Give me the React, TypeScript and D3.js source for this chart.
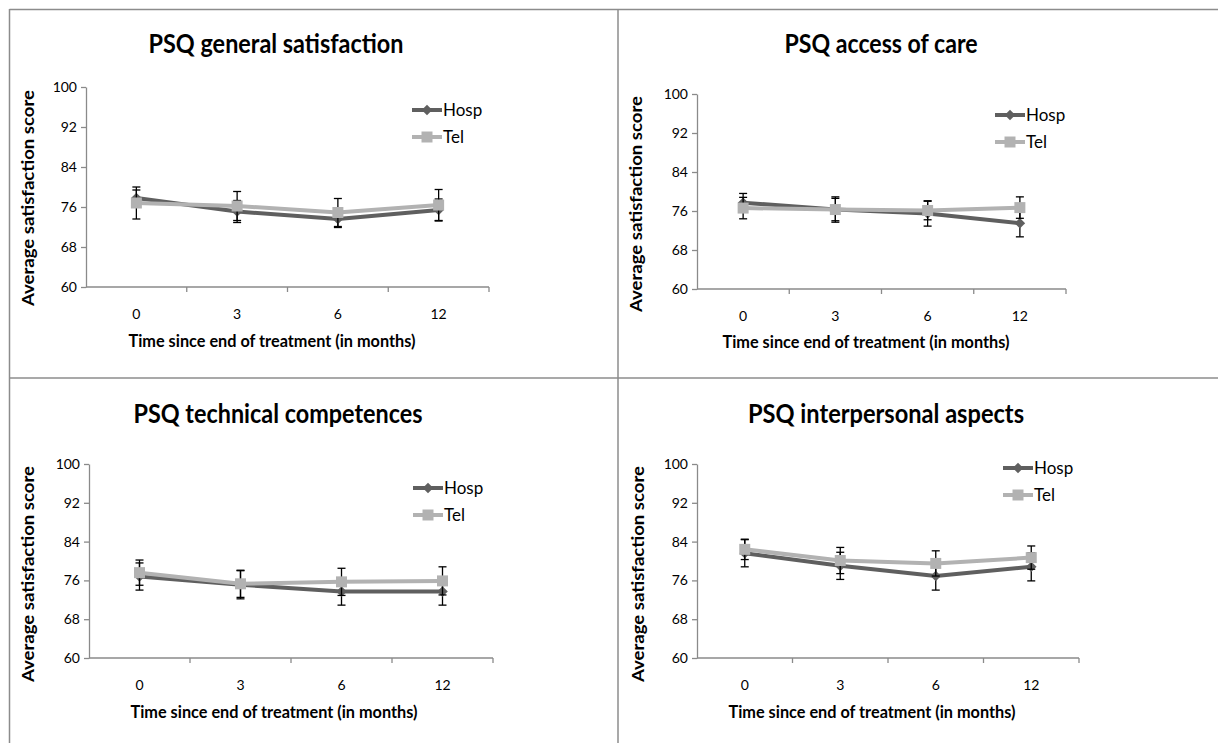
import React, { useEffect, useRef } from 'react';
import * as d3 from 'd3';

// data
const months = ['0', '3', '6', '12'];
const yTicks = [60, 68, 76, 84, 92, 100];
const seriesNames = ['Hosp', 'Tel'];

const titles = [
  'PSQ general satisfaction',
  'PSQ access of care',
  'PSQ technical competences',
  'PSQ interpersonal aspects',
];

const generalHosp = [77.8, 75.1, 73.6, 75.4];
const generalHospErr = [1.6, 2.2, 1.7, 2.2];
const generalTel = [76.8, 76.2, 74.9, 76.4];
const generalTelErr = [3.2, 2.9, 2.8, 3.1];

const accessHosp = [77.7, 76.3, 75.5, 73.5];
const accessHospErr = [1.9, 2.6, 2.6, 2.8];
const accessTel = [76.6, 76.3, 76.1, 76.7];
const accessTelErr = [2.2, 2.3, 1.9, 2.2];

const technicalHosp = [76.8, 75.1, 73.7, 73.7];
const technicalHospErr = [2.8, 2.9, 2.8, 2.8];
const technicalTel = [77.6, 75.3, 75.7, 75.9];
const technicalTelErr = [2.6, 2.8, 2.8, 2.9];

const interHosp = [81.6, 79.0, 76.9, 78.8];
const interHospErr = [2.8, 2.8, 2.9, 2.9];
const interTel = [82.4, 80.1, 79.5, 80.7];
const interTelErr = [2.1, 2.7, 2.6, 2.4];

const hospValues = [generalHosp, accessHosp, technicalHosp, interHosp];
const hospErrors = [generalHospErr, accessHospErr, technicalHospErr, interHospErr];
const telValues = [generalTel, accessTel, technicalTel, interTel];
const telErrors = [generalTelErr, accessTelErr, technicalTelErr, interTelErr];

// layout of each panel (pixels); tw = title width
const layouts = [
  { x0: 86, x1: 489, top: 87, bottom: 287, tx: 276, ty: 53, tw: 255, yx: 28, yy: 198, xx: 272, xy: 347, lx: 412, ly: 110 },
  { x0: 697, x1: 1066, top: 94, bottom: 289, tx: 881, ty: 53, tw: 193, yx: 636, yy: 204, xx: 866, xy: 348, lx: 995, ly: 115 },
  { x0: 89, x1: 493, top: 464, bottom: 658, tx: 278, ty: 423, tw: 289, yx: 28, yy: 574, xx: 274, xy: 718, lx: 413, ly: 488 },
  { x0: 697, x1: 1079, top: 464, bottom: 658, tx: 886, ty: 423, tw: 276, yx: 638, yy: 574, xx: 872, xy: 718, lx: 1003, ly: 468 },
];

const W = 1218;
const H = 743;
const FONT = 'Lato, "Open Sans", sans-serif';
const HOSP_COLOR = '#5f5f5f';
const TEL_COLOR = '#b2b2b2';
const AXIS_COLOR = '#8a8a8a';

export default function App() {
  const ref = useRef<SVGSVGElement>(null);

  useEffect(() => {
    const svg = d3.select(ref.current);
    svg.selectAll('*').remove();

    // panel frame lines
    const frame = svg.append('g').attr('stroke', '#8c8c8c').attr('stroke-width', 1.5);
    frame.append('line').attr('x1', 9.5).attr('x2', W).attr('y1', 9.5).attr('y2', 9.5);
    frame.append('line').attr('x1', 9.5).attr('x2', 9.5).attr('y1', 9).attr('y2', H);
    frame.append('line').attr('x1', 618).attr('x2', 618).attr('y1', 9).attr('y2', H);
    frame.append('line').attr('x1', 9).attr('x2', W).attr('y1', 378).attr('y2', 378);

    layouts.forEach((p, i) => {
      const g = svg.append('g');

      const x = d3.scaleBand<string>().domain(months).range([p.x0, p.x1]).padding(0);
      const y = d3.scaleLinear().domain([60, 100]).range([p.bottom, p.top]);
      const cx = (m: string) => (x(m) as number) + x.bandwidth() / 2;

      // title
      g.append('text')
        .attr('x', p.tx).attr('y', p.ty)
        .attr('text-anchor', 'middle')
        .attr('textLength', p.tw)
        .attr('lengthAdjust', 'spacingAndGlyphs')
        .style('font-family', FONT).style('font-weight', 700).style('font-size', '26px')
        .text(titles[i]);

      // y axis
      const yAxis = g.append('g')
        .attr('transform', `translate(${p.x0},0)`)
        .call(d3.axisLeft(y).tickValues(yTicks).tickSize(5).tickSizeOuter(0).tickPadding(4));
      yAxis.select('.domain').attr('stroke', AXIS_COLOR).attr('stroke-width', 1.3);
      yAxis.selectAll('.tick line').attr('stroke', AXIS_COLOR).attr('stroke-width', 1.3);
      yAxis.selectAll('.tick text')
        .attr('fill', '#000')
        .style('font-family', FONT).style('font-size', '14px');

      // x axis: ticks sit between categories
      g.append('line')
        .attr('x1', p.x0).attr('x2', p.x1).attr('y1', p.bottom).attr('y2', p.bottom)
        .attr('stroke', AXIS_COLOR).attr('stroke-width', 1.3);
      const bounds = months.map((m) => x(m) as number).concat([p.x1]);
      g.selectAll('.xtick')
        .data(bounds.slice(1))
        .enter()
        .append('line')
        .attr('x1', (d) => d).attr('x2', (d) => d)
        .attr('y1', p.bottom).attr('y2', p.bottom + 5)
        .attr('stroke', AXIS_COLOR).attr('stroke-width', 1.3);
      g.selectAll('.xlabel')
        .data(months)
        .enter()
        .append('text')
        .attr('x', (d) => cx(d))
        .attr('y', p.bottom + 32)
        .attr('text-anchor', 'middle')
        .style('font-family', FONT).style('font-size', '14px')
        .text((d) => d);

      // axis titles
      g.append('text')
        .attr('transform', `translate(${p.yx},${p.yy}) rotate(-90)`)
        .attr('text-anchor', 'middle')
        .attr('dy', '0.35em')
        .attr('textLength', 216)
        .attr('lengthAdjust', 'spacingAndGlyphs')
        .style('font-family', FONT).style('font-weight', 700).style('font-size', '17px')
        .text('Average satisfaction score');
      g.append('text')
        .attr('x', p.xx).attr('y', p.xy)
        .attr('text-anchor', 'middle')
        .attr('textLength', 287)
        .attr('lengthAdjust', 'spacingAndGlyphs')
        .style('font-family', FONT).style('font-weight', 700).style('font-size', '16.5px')
        .text('Time since end of treatment (in months)');

      const series = [
        { values: hospValues[i], errs: hospErrors[i], color: HOSP_COLOR, symbol: 'diamond' },
        { values: telValues[i], errs: telErrors[i], color: TEL_COLOR, symbol: 'square' },
      ];

      const line = d3.line<number>()
        .x((_, j) => cx(months[j]))
        .y((d) => y(d));

      const marker = (sel: any, kind: string, color: string) => {
        sel.attr('d', d3.symbol(d3.symbolSquare, kind === 'diamond' ? 56 : 121)())
          .attr('fill', color);
      };

      series.forEach((s) => {
        // error bars
        const eb = g.append('g').attr('stroke', '#000').attr('stroke-width', 1.3);
        s.values.forEach((v, j) => {
          const xc = cx(months[j]);
          const yHi = y(v + s.errs[j]);
          const yLo = y(v - s.errs[j]);
          eb.append('line').attr('x1', xc).attr('x2', xc).attr('y1', yHi).attr('y2', yLo);
          eb.append('line').attr('x1', xc - 4).attr('x2', xc + 4).attr('y1', yHi).attr('y2', yHi);
          eb.append('line').attr('x1', xc - 4).attr('x2', xc + 4).attr('y1', yLo).attr('y2', yLo);
        });

        g.append('path')
          .datum(s.values)
          .attr('d', line)
          .attr('fill', 'none')
          .attr('stroke', s.color)
          .attr('stroke-width', 4)
          .attr('stroke-linejoin', 'round');

        g.selectAll(null)
          .data(s.values)
          .enter()
          .append('path')
          .attr('transform', (d, j) =>
            `translate(${cx(months[j])},${y(d)})` + (s.symbol === 'diamond' ? ' rotate(45)' : ''))
          .call((sel: any) => marker(sel, s.symbol, s.color));
      });

      // legend
      series.forEach((s, k) => {
        const ly = p.ly + k * 27;
        g.append('line')
          .attr('x1', p.lx).attr('x2', p.lx + 30).attr('y1', ly).attr('y2', ly)
          .attr('stroke', s.color).attr('stroke-width', 4);
        g.append('path')
          .attr('transform', `translate(${p.lx + 15},${ly})` + (s.symbol === 'diamond' ? ' rotate(45)' : ''))
          .call((sel: any) => marker(sel, s.symbol, s.color));
        g.append('text')
          .attr('x', p.lx + 31).attr('y', ly)
          .attr('dy', '0.35em')
          .style('font-family', FONT).style('font-size', '17px')
          .text(seriesNames[k]);
      });
    });
  }, []);

  return (
    <svg
      ref={ref}
      width={W}
      height={H}
      style={{ position: 'absolute', left: 0, top: 0, background: '#fff' }}
    />
  );
}
